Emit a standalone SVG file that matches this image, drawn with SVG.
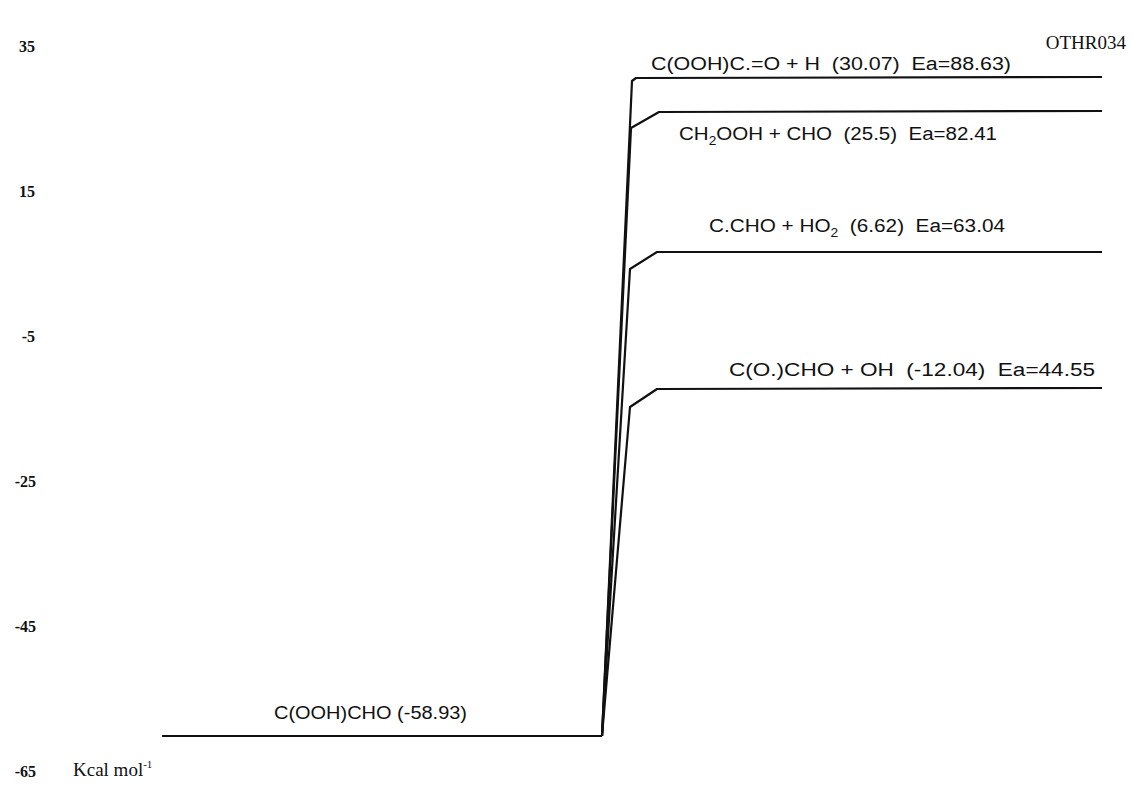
<svg xmlns="http://www.w3.org/2000/svg" width="1132" height="789" viewBox="0 0 1132 789">
<style>
.ax{font-family:"Liberation Serif",serif;font-weight:bold;font-size:16px;fill:#111;text-anchor:end}
.lbl{font-family:"Liberation Sans",Arial,sans-serif;font-size:18px;fill:#111}
.ser{font-family:"Liberation Serif",serif;font-size:19px;fill:#111}
.ln{fill:none;stroke:#111;stroke-width:2.2;stroke-linejoin:round}
</style>
<rect width="1132" height="789" fill="#fff"/>
<g id="axis">
<text class="ax" x="35" y="52">35</text>
<text class="ax" x="35" y="197">15</text>
<text class="ax" x="35" y="342">-5</text>
<text class="ax" x="36" y="487">-25</text>
<text class="ax" x="36" y="632">-45</text>
<text class="ax" x="36" y="777">-65</text>
<text class="ser" x="73" y="776">Kcal mol<tspan font-size="11" dy="-8">-1</tspan></text>
<text class="ser" x="1126" y="49" text-anchor="end">OTHR034</text>
</g>
<g id="connectors">
<path class="ln" d="M602,736 L632,81 L636,78 L1102,77"/>
<path class="ln" d="M602,736 L631,128 L659,112 L1102,111"/>
<path class="ln" d="M602,736 L630,269 L657,252 L1102,252"/>
<path class="ln" d="M602,736 L630,407 L657,389 L1102,388"/>
</g>
<g id="reactant">
<path class="ln" d="M162,736 L602,736"/>
<text class="lbl" x="274" y="719" textLength="193" lengthAdjust="spacingAndGlyphs">C(OOH)CHO (-58.93)</text>
</g>
<g id="p1">
<text class="lbl" x="651" y="70" textLength="360" lengthAdjust="spacingAndGlyphs" xml:space="preserve">C(OOH)C.=O + H  (30.07)  Ea=88.63)</text>
</g>
<g id="p2">
<text class="lbl" x="679" y="140" textLength="318" lengthAdjust="spacingAndGlyphs" xml:space="preserve">CH<tspan font-size="12" dy="5">2</tspan><tspan dy="-5">OOH + CHO  (25.5)  Ea=82.41</tspan></text>
</g>
<g id="p3">
<text class="lbl" x="709" y="232" textLength="296" lengthAdjust="spacingAndGlyphs" xml:space="preserve">C.CHO + HO<tspan font-size="12" dy="5">2</tspan><tspan dy="-5">  (6.62)  Ea=63.04</tspan></text>
</g>
<g id="p4">
<text class="lbl" x="729" y="376" textLength="366" lengthAdjust="spacingAndGlyphs" xml:space="preserve">C(O.)CHO + OH  (-12.04)  Ea=44.55</text>
</g>
</svg>
